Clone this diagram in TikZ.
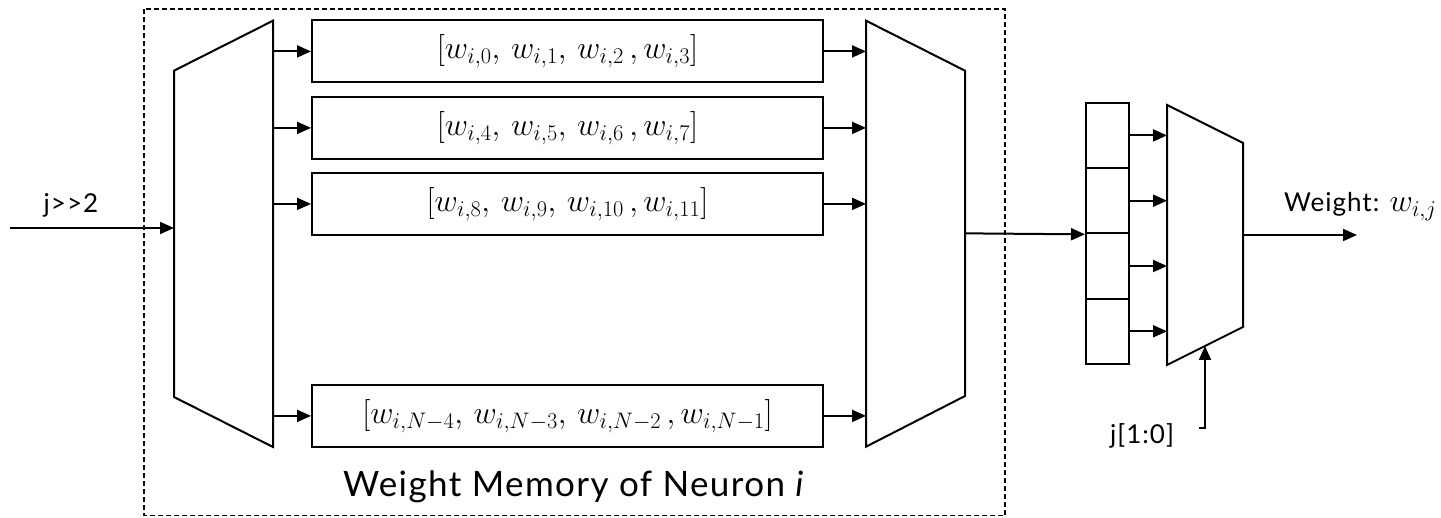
\RequirePackage{fix-cm}
\documentclass[tikz,border=0pt]{standalone}
\usepackage{fontspec}
\setmainfont{Lato}[LetterSpace=4]
\usetikzlibrary{arrows.meta,calc}
\begin{document}
\begin{tikzpicture}[x=1pt,y=-1pt,
  line width=2pt,
  arr/.style={-{Triangle[length=14pt,width=12pt]}, line width=2pt},
  membox/.style={draw, line width=2pt, minimum width=511pt, minimum height=62pt, inner sep=0pt,
                 font=\fontsize{32}{36}\selectfont},
  cell/.style={draw, line width=2pt, minimum width=43pt, minimum height=65.3pt, inner sep=0pt},
  lbl/.style={font=\fontsize{26}{30}\selectfont, inner sep=0pt},
  frame/.style={draw, dashed, line width=1.6pt, dash pattern=on 5pt off 3pt}]
\useasboundingbox (0,0) rectangle (1441,518);

% enclosing memory block
\draw[frame] (144,9) rectangle (1005,515.5);
\node[font=\fontsize{35}{40}\selectfont] (title) at (574,487) {Weight Memory of Neuron \textit{i}};

% address demultiplexer
\coordinate (dmA) at (174,70.7);
\coordinate (dmB) at (273,20.7);
\coordinate (dmC) at (273,447);
\coordinate (dmD) at (174,397);
\draw[line join=miter] (dmA) -- (dmB) -- (dmC) -- (dmD) -- cycle;

% weight rows
\node[membox] (b1) at (567.5,51.4)  {$[w_{i,0},\, w_{i,1},\, w_{i,2}\,, w_{i,3}]$};
\node[membox] (b2) at (567.5,127.9) {$[w_{i,4},\, w_{i,5},\, w_{i,6}\,, w_{i,7}]$};
\node[membox] (b3) at (567.5,203.9) {$[w_{i,8},\, w_{i,9},\, w_{i,10}\,, w_{i,11}]$};
\node[membox] (b4) at (567.5,415.9) {$[w_{i,N-4},\, w_{i,N-3},\, w_{i,N-2}\,, w_{i,N-1}]$};

% output multiplexer of the memory
\coordinate (mmA) at (866,20.7);
\coordinate (mmB) at (965,70.7);
\coordinate (mmC) at (965,396);
\coordinate (mmD) at (866,446.7);
\draw[line join=miter] (mmA) -- (mmB) -- (mmC) -- (mmD) -- cycle;
\coordinate (mmOut) at ($(mmB)!0.5!(mmC)$);

% demux to rows, rows to mux
\foreach \b in {b1,b2,b3,b4}{
  \draw[arr] (dmB |- \b.west) -- (\b.west);
  \draw[arr] (\b.east) -- (mmA |- \b.east);
}

% input address
\coordinate (jin) at (10,228);
\draw[arr] (jin) -- (dmA |- jin);
\node[lbl] (jlbl) at (71,205) {j>{}>2};

% four-word register
\node[cell] (r1) at (1107.5,135.4) {};
\node[cell] (r2) at (1107.5,200.7) {};
\node[cell] (r3) at (1107.5,266.0) {};
\node[cell] (r4) at (1107.5,331.3) {};
\draw[arr] (mmOut) -- (r2.south west);

% word select multiplexer
\coordinate (smA) at (1167,105);
\coordinate (smB) at (1243,143);
\coordinate (smC) at (1243,327);
\coordinate (smD) at (1167,365);
\draw[line join=miter] (smA) -- (smB) -- (smC) -- (smD) -- cycle;
\foreach \r in {r1,r2,r3,r4}{
  \draw[arr] (\r.east) -- (smA |- \r.east);
}

% output weight
\coordinate (smOut) at ($(smB)!0.5!(smC)$);
\coordinate (wout) at (1357,235);
\draw[arr] (smOut) -- (wout);
\node[lbl, anchor=south west] (wlbl) at (1283,222) {Weight: {\fontsize{32}{36}\selectfont$w_{i,j}$}};

% select input
\coordinate (selBase) at (1199,428);
\coordinate (selTip) at ($(smD)!0.5!(smC)$);
\draw[arr] (selBase) -- (selTip |- selBase) -- (selTip);
\node[lbl] (sellbl) at (1142,436) {j[1:0]};
\end{tikzpicture}
\end{document}
